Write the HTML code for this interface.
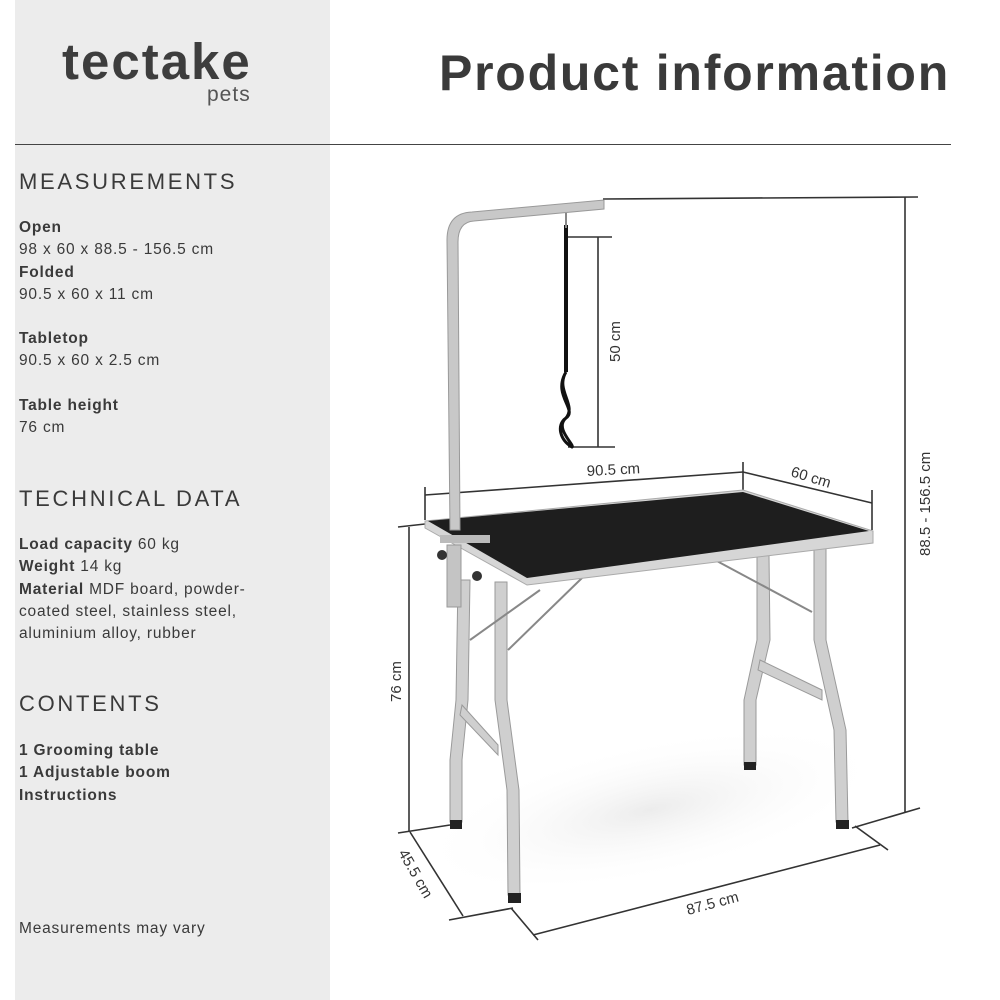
<!DOCTYPE html>
<html><head><meta charset="utf-8"><style>
body{margin:0;width:1000px;height:1000px;background:#fff;position:relative;overflow:hidden;font-family:"Liberation Sans",sans-serif;color:#3a3a3a}
.panel{position:absolute;left:15px;top:0;width:315px;height:1000px;background:#ececec}
.t{position:absolute;white-space:nowrap}
.h{font-size:22px;letter-spacing:2.7px;color:#3a3a3a}
.p{font-size:15.5px;line-height:22.3px;color:#3a3a3a;letter-spacing:0.8px}
b{font-weight:bold}
</style></head><body>
<div class="panel"></div>
<div class="t" style="left:62px;top:32px;font-size:51px;font-weight:bold;letter-spacing:2px;color:#3d3d3d">tectake</div>
<div class="t" style="left:207px;top:83px;font-size:21px;letter-spacing:1px;color:#555">pets</div>
<div class="t" style="left:439px;top:44px;font-size:50px;font-weight:bold;letter-spacing:1.75px;color:#3a3a3a">Product information</div>
<div style="position:absolute;left:15px;top:144px;width:936px;height:1px;background:#444"></div>
<div class="t h" style="left:19px;top:169px">MEASUREMENTS</div>
<div class="t p" style="left:19px;top:217px"><b>Open</b><br>98 x 60 x 88.5 - 156.5 cm<br><b>Folded</b><br>90.5 x 60 x 11 cm</div>
<div class="t p" style="left:19px;top:328px"><b>Tabletop</b><br>90.5 x 60 x 2.5 cm</div>
<div class="t p" style="left:19px;top:395px"><b>Table height</b><br>76 cm</div>
<div class="t h" style="left:19px;top:486px">TECHNICAL DATA</div>
<div class="t p" style="left:19px;top:534px"><b>Load capacity</b> 60 kg<br><b>Weight</b> 14 kg<br><b>Material</b> MDF board, powder-<br>coated steel, stainless steel,<br>aluminium alloy, rubber</div>
<div class="t h" style="left:19px;top:691px">CONTENTS</div>
<div class="t p" style="left:19px;top:740px"><b>1 Grooming table<br>1 Adjustable boom<br>Instructions</b></div>
<div class="t p" style="left:19px;top:918px">Measurements may vary</div>
<svg style="position:absolute;left:0;top:0" width="1000" height="1000" font-family="Liberation Sans, sans-serif" font-size="15" fill="#333">
<defs><radialGradient id="sh" cx="0.5" cy="0.5" r="0.5"><stop offset="0" stop-color="#ececec"/><stop offset="1" stop-color="#fff" stop-opacity="0"/></radialGradient></defs>
<ellipse cx="650" cy="810" rx="240" ry="70" fill="url(#sh)" transform="rotate(-12 650 810)"/>
<g stroke="#333" stroke-width="1.6" fill="none">
<line x1="603" y1="199" x2="918" y2="197"/>
<line x1="905" y1="197" x2="905" y2="812"/>
<line x1="852" y1="828" x2="920" y2="808"/>
<line x1="568" y1="237" x2="612" y2="237"/><line x1="568" y1="447" x2="615" y2="447"/><line x1="598" y1="237" x2="598" y2="447"/>
<line x1="425" y1="487" x2="425" y2="520"/><line x1="743" y1="462" x2="743" y2="492"/><line x1="872" y1="490" x2="872" y2="530"/>
<line x1="425" y1="495" x2="743" y2="472"/><line x1="743" y1="472" x2="872" y2="503"/>
<line x1="398" y1="527" x2="425" y2="524"/><line x1="409" y1="527" x2="409" y2="831"/>
<line x1="398" y1="833" x2="450" y2="825"/><line x1="410" y1="832" x2="463" y2="916"/>
<line x1="449" y1="920" x2="513" y2="908"/><line x1="511" y1="908" x2="538" y2="940"/>
<line x1="533" y1="935" x2="880" y2="845"/><line x1="855" y1="826" x2="888" y2="850"/>
</g>
<g fill="#333" font-size="15">
<text x="587" y="476" transform="rotate(-3 587 476)">90.5 cm</text>
<text x="790" y="476" transform="rotate(17 790 476)">60 cm</text>
<text x="620" y="362" transform="rotate(-90 620 362)">50 cm</text>
<text x="401" y="702" transform="rotate(-90 401 702)">76 cm</text>
<text x="930" y="556" transform="rotate(-90 930 556)">88.5 - 156.5 cm</text>
<text x="398" y="853" transform="rotate(60 398 853)">45.5 cm</text>
<text x="688" y="915" transform="rotate(-15 688 915)">87.5 cm</text>
</g>
<g stroke="#9a9a9a" stroke-width="1" fill="#cfcfcf">
<path d="M458 580 L470 580 L468 700 L462 760 L462 822 L450 822 L450 760 L456 700 Z"/>
<path d="M495 582 L507 582 L507 700 L519 790 L520 895 L508 895 L507 790 L495 700 Z"/>
<path d="M757 555 L769 555 L770 640 L756 700 L756 765 L744 765 L744 700 L757 640 Z"/>
<path d="M814 548 L826 548 L826 640 L846 730 L848 822 L836 822 L834 730 L814 640 Z"/>
<path d="M462 705 L498 745 L498 755 L460 715 Z"/>
<path d="M760 660 L822 690 L822 700 L758 670 Z"/>
</g>
<g stroke="#888" stroke-width="2"><line x1="470" y1="640" x2="540" y2="590"/><line x1="508" y1="650" x2="582" y2="578"/><line x1="715" y1="560" x2="812" y2="612"/></g>
<g fill="#222"><rect x="450" y="820" width="12" height="9"/><rect x="508" y="893" width="13" height="10"/><rect x="744" y="762" width="12" height="8"/><rect x="836" y="820" width="13" height="9"/></g>
<polygon points="425,521 743,490 873,531 873,543 527,585 425,528" fill="#d6d6d6" stroke="#aaa"/>
<polygon points="428,521 743,492 869,531 527,578" fill="#1e1e1e"/>
<path d="M450 530 L447 240 Q447 213 472 212 L604 200 L604 209 L474 221 Q458 222 458 242 L460 530 Z" fill="#c8c8c8" stroke="#999"/>
<rect x="440" y="535" width="50" height="8" fill="#bbb"/><rect x="447" y="545" width="14" height="62" fill="#c4c4c4" stroke="#999"/>
<circle cx="442" cy="555" r="5" fill="#333"/><circle cx="477" cy="576" r="5" fill="#333"/>
<line x1="566" y1="225" x2="566" y2="372" stroke="#111" stroke-width="4"/>
<line x1="566" y1="213" x2="566" y2="228" stroke="#888" stroke-width="2"/>
<path d="M566 372 C552 395 578 410 566 418 C554 428 575 445 572 447 C560 440 556 425 566 418 C577 405 555 390 566 372 Z" fill="none" stroke="#111" stroke-width="3"/>
</svg>
</body></html>
